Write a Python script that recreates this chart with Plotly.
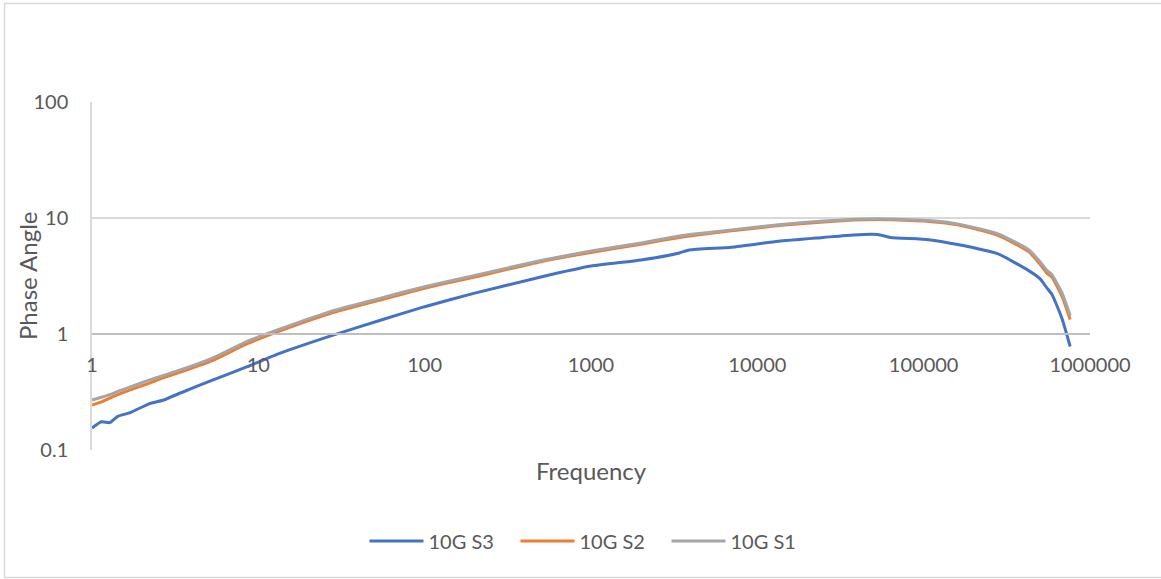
import plotly.graph_objects as go

# Frequency points (Hz)
frequency = [1, 1.14, 1.28, 1.43, 1.7, 2.2, 2.7, 3.4, 5.3, 8.5, 13.4, 27, 53, 100, 200, 500,
             1000, 2000, 3400, 3900, 7000, 13400, 25000, 38000, 53000, 63000, 107000,
             160000, 280000, 430000, 500000, 550000, 590000, 680000, 760000]

# Phase angle per series
s3_values = [0.155, 0.175, 0.172, 0.195, 0.21, 0.25, 0.27, 0.31, 0.40, 0.52, 0.68, 0.96, 1.30,
             1.72, 2.25, 3.1, 3.85, 4.35, 5.0, 5.3, 5.6, 6.3, 6.8, 7.15, 7.2, 6.8, 6.5,
             5.9, 4.9, 3.5, 3.0, 2.5, 2.2, 1.35, 0.78]
s2_values = [0.244, 0.26, 0.28, 0.30, 0.33, 0.375, 0.42, 0.47, 0.59, 0.82, 1.06, 1.50, 1.95,
             2.48, 3.1, 4.2, 5.05, 5.95, 6.8, 7.0, 7.75, 8.6, 9.25, 9.6, 9.7, 9.65, 9.35,
             8.75, 7.1, 5.1, 4.0, 3.35, 3.1, 2.1, 1.33]
s1_values = [0.27, 0.285, 0.30, 0.32, 0.35, 0.40, 0.44, 0.49, 0.62, 0.86, 1.10, 1.56, 2.02,
             2.56, 3.2, 4.3, 5.2, 6.1, 7.0, 7.2, 7.9, 8.76, 9.4, 9.75, 9.85, 9.8, 9.5,
             8.9, 7.3, 5.3, 4.2, 3.55, 3.25, 2.25, 1.44]

series_names = ["10G S3", "10G S2", "10G S1"]
series_colors = ["#4472C4", "#ED7D31", "#A5A5A5"]
x_tick_vals = [1, 10, 100, 1000, 10000, 100000, 1000000]
x_tick_text = ["1", "10", "100", "1000", "10000", "100000", "1000000"]
y_tick_vals = [0.1, 1, 10, 100]
y_tick_text = ["0.1", "1", "10", "100"]

FONT = "Lato, Carlito, Calibri, sans-serif"
GREY_TEXT = "#595959"

fig = go.Figure()
for name, vals, col in zip(series_names, [s3_values, s2_values, s1_values], series_colors):
    fig.add_trace(go.Scatter(x=frequency, y=vals, mode="lines", name=name,
                             line=dict(color=col, width=3, shape="spline", smoothing=0.5)))

W, H = 1161, 579
L, R, T, B = 92, 71, 102, 129
pw, ph = W - L - R, H - T - B

def px2paper_x(px):
    return (px - L) / pw

def py2paper_y(py):
    return (H - B - py) / ph

fig.update_layout(
    width=W, height=H,
    margin=dict(l=L, r=R, t=T, b=B),
    paper_bgcolor="white", plot_bgcolor="white",
    font=dict(family=FONT, size=20, color=GREY_TEXT),
    showlegend=True,
    legend=dict(orientation="h", x=0.5, xanchor="center", y=py2paper_y(541), yanchor="middle",
                font=dict(size=20, color=GREY_TEXT), itemwidth=54, entrywidth=82,
                traceorder="normal"),
    xaxis=dict(type="log", range=[0, 6], tickvals=x_tick_vals, ticktext=x_tick_text,
               showgrid=False, zeroline=False, showline=True, linecolor="#BFBFBF", linewidth=1.5,
               anchor="free", position=1/3, ticks="", ticklabelstandoff=13,
               tickfont=dict(size=20, color=GREY_TEXT)),
    yaxis=dict(type="log", range=[-1, 2], tickvals=y_tick_vals, ticktext=y_tick_text,
               showgrid=True, gridcolor="#D9D9D9", gridwidth=1.5, zeroline=False,
               showline=True, linecolor="#D9D9D9", linewidth=1.5, ticks="",
               ticklabelstandoff=18, tickfont=dict(size=20, color=GREY_TEXT)),
)

fig.add_annotation(text="Frequency", xref="paper", yref="paper", x=0.5, y=py2paper_y(470),
                   xanchor="center", yanchor="middle", showarrow=False,
                   font=dict(size=24, color=GREY_TEXT, family=FONT))
fig.add_annotation(text="Phase Angle", xref="paper", yref="paper", x=px2paper_x(27), y=0.5,
                   xanchor="center", yanchor="middle", showarrow=False, textangle=-90,
                   font=dict(size=24, color=GREY_TEXT, family=FONT))

# outer chart border
fig.add_shape(type="rect", xref="paper", yref="paper",
              x0=px2paper_x(4.5), x1=px2paper_x(1175), y0=py2paper_y(577.5), y1=py2paper_y(3.5),
              line=dict(color="#D9D9D9", width=1.5), fillcolor="rgba(0,0,0,0)", layer="below")

fig.write_html("out.html", config={"displayModeBar": False},
               post_script="document.body.style.margin='0px';")
